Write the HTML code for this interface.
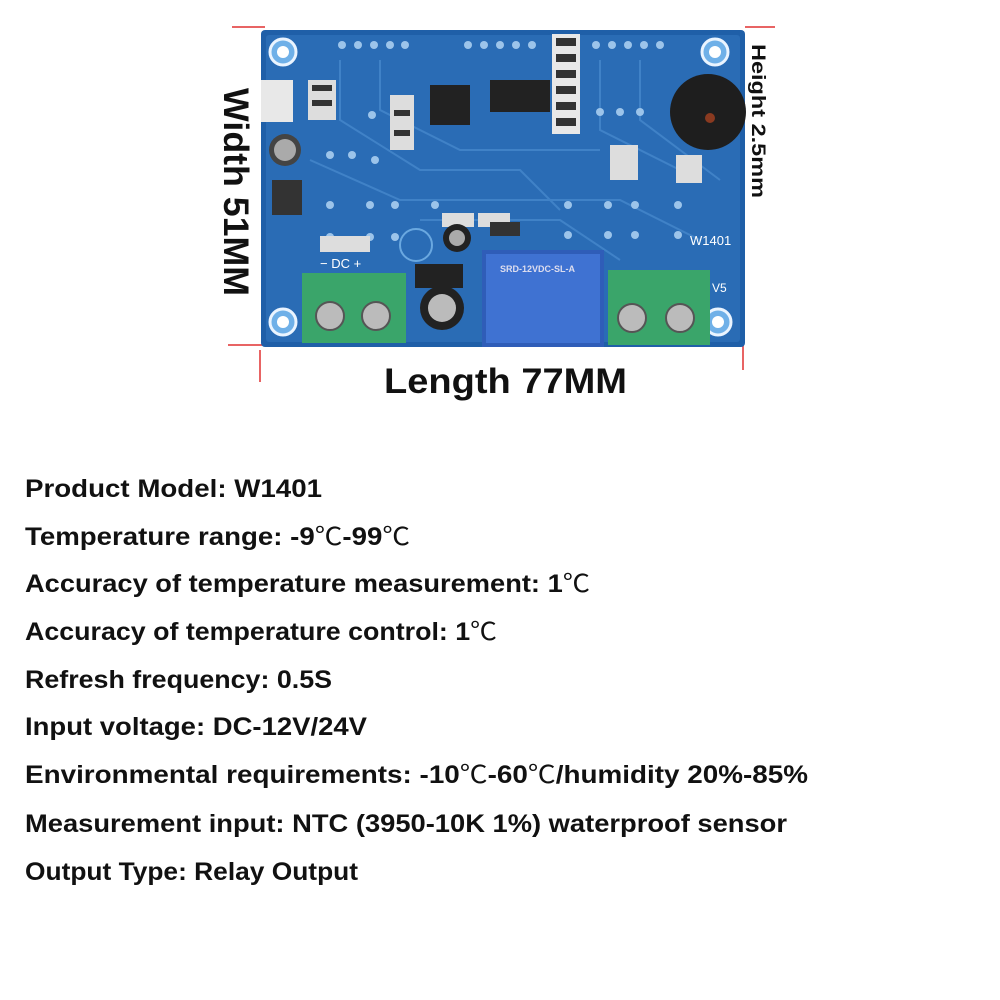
<!DOCTYPE html>
<html><head><meta charset="utf-8"><style>
html,body{margin:0;padding:0;background:#fff;width:1000px;height:1000px;overflow:hidden}
svg text{font-family:"Liberation Sans","Noto Sans CJK SC",sans-serif;font-weight:bold;fill:#111}
.c{font-weight:normal;font-family:"Noto Sans CJK SC",sans-serif}
</style></head><body>
<svg width="1000" height="1000" viewBox="0 0 1000 1000" xmlns="http://www.w3.org/2000/svg">
<g stroke="#e03030" stroke-width="1.5">
<line x1="232" y1="27" x2="265" y2="27"/><line x1="745" y1="27" x2="775" y2="27"/>
<line x1="228" y1="345" x2="262" y2="345"/>
<line x1="260" y1="350" x2="260" y2="382"/><line x1="743" y1="345" x2="743" y2="370"/>
</g>
<rect x="261" y="30" width="484" height="317" rx="4" fill="#1f5fa8"/>
<rect x="266" y="35" width="474" height="307" rx="3" fill="#2a6cb5"/>
<g fill="none" stroke="#4a8cd0" stroke-width="2" opacity="0.7">
<path d="M340 60 L340 120 L420 170 L520 170 L560 210"/><path d="M380 60 L380 110 L460 150 L600 150"/>
<path d="M600 60 L600 130 L700 180"/><path d="M310 160 L400 200 L620 200 L700 240"/>
<path d="M420 220 L560 220 L620 260"/><path d="M640 60 L640 120 L720 180"/>
</g>
<g fill="#9cc4ea">
<circle cx="342" cy="45" r="4"/><circle cx="358" cy="45" r="4"/><circle cx="374" cy="45" r="4"/><circle cx="390" cy="45" r="4"/><circle cx="405" cy="45" r="4"/>
<circle cx="468" cy="45" r="4"/><circle cx="484" cy="45" r="4"/><circle cx="500" cy="45" r="4"/><circle cx="516" cy="45" r="4"/><circle cx="532" cy="45" r="4"/>
<circle cx="596" cy="45" r="4"/><circle cx="612" cy="45" r="4"/><circle cx="628" cy="45" r="4"/><circle cx="644" cy="45" r="4"/><circle cx="660" cy="45" r="4"/>
<circle cx="330" cy="155" r="4"/><circle cx="352" cy="155" r="4"/><circle cx="372" cy="115" r="4"/><circle cx="375" cy="160" r="4"/>
<circle cx="330" cy="205" r="4"/><circle cx="370" cy="205" r="4"/><circle cx="395" cy="205" r="4"/><circle cx="435" cy="205" r="4"/>
<circle cx="330" cy="237" r="4"/><circle cx="370" cy="237" r="4"/><circle cx="395" cy="237" r="4"/>
<circle cx="568" cy="205" r="4"/><circle cx="608" cy="205" r="4"/><circle cx="635" cy="205" r="4"/><circle cx="678" cy="205" r="4"/>
<circle cx="568" cy="235" r="4"/><circle cx="608" cy="235" r="4"/><circle cx="635" cy="235" r="4"/><circle cx="678" cy="235" r="4"/>
<circle cx="600" cy="112" r="4"/><circle cx="620" cy="112" r="4"/><circle cx="640" cy="112" r="4"/>
</g>
<g fill="#6fb0e8" stroke="#eaf4ff" stroke-width="3">
<circle cx="283" cy="52" r="13"/><circle cx="715" cy="52" r="13"/>
<circle cx="283" cy="322" r="13"/><circle cx="718" cy="322" r="13"/>
</g>
<g fill="#fff"><circle cx="283" cy="52" r="6"/><circle cx="715" cy="52" r="6"/><circle cx="283" cy="322" r="6"/><circle cx="718" cy="322" r="6"/></g>
<rect x="261" y="80" width="32" height="42" fill="#e8e8e8"/>
<circle cx="285" cy="150" r="16" fill="#444"/><circle cx="285" cy="150" r="11" fill="#aaa"/>
<rect x="272" y="180" width="30" height="35" fill="#333"/>
<rect x="430" y="85" width="40" height="40" fill="#222"/>
<rect x="490" y="80" width="60" height="32" fill="#222"/>
<rect x="552" y="34" width="28" height="100" fill="#e8e8e8"/>
<g fill="#333"><rect x="556" y="38" width="20" height="8"/><rect x="556" y="54" width="20" height="8"/><rect x="556" y="70" width="20" height="8"/><rect x="556" y="86" width="20" height="8"/><rect x="556" y="102" width="20" height="8"/><rect x="556" y="118" width="20" height="8"/></g>
<circle cx="708" cy="112" r="38" fill="#1e1e1e"/><circle cx="710" cy="118" r="5" fill="#8a3a20"/>
<g fill="#ddd"><rect x="308" y="80" width="28" height="40"/><rect x="390" y="95" width="24" height="55"/><rect x="610" y="145" width="28" height="35"/><rect x="676" y="155" width="26" height="28"/><rect x="442" y="213" width="32" height="14"/><rect x="478" y="213" width="32" height="14"/><rect x="320" y="236" width="50" height="16"/></g>
<g fill="#333"><rect x="312" y="85" width="20" height="6"/><rect x="312" y="100" width="20" height="6"/><rect x="394" y="110" width="16" height="6"/><rect x="394" y="130" width="16" height="6"/><rect x="490" y="222" width="30" height="14"/></g>
<circle cx="457" cy="238" r="14" fill="#222"/><circle cx="457" cy="238" r="8" fill="#aaa"/>
<circle cx="442" cy="308" r="22" fill="#222"/><circle cx="442" cy="308" r="14" fill="#bbb"/>
<circle cx="416" cy="245" r="16" fill="none" stroke="#6aa8e0" stroke-width="2"/>
<rect x="415" y="264" width="48" height="24" fill="#222"/>
<rect x="482" y="250" width="122" height="97" fill="#2f5db8"/>
<rect x="486" y="254" width="114" height="89" fill="#3f72d2"/>
<text x="500" y="272" style="fill:#dde;font-size:9px">SRD-12VDC-SL-A</text>
<rect x="302" y="273" width="104" height="70" fill="#3aa56a"/>
<rect x="608" y="270" width="102" height="75" fill="#3aa56a"/>
<g fill="#bbb" stroke="#555" stroke-width="2">
<circle cx="330" cy="316" r="14"/><circle cx="376" cy="316" r="14"/><circle cx="632" cy="318" r="14"/><circle cx="680" cy="318" r="14"/>
</g>
<text x="320" y="268" style="fill:#fff;font-size:13px;font-weight:normal">−  DC  +</text>
<text x="690" y="245" style="fill:#fff;font-size:13px;font-weight:normal">W1401</text>
<text x="712" y="292" style="fill:#fff;font-size:12px;font-weight:normal">V5</text>
<text x="0" y="0" transform="translate(224,88) rotate(90)" font-size="35" textLength="208" lengthAdjust="spacingAndGlyphs">Width 51MM</text>
<text x="0" y="0" transform="translate(752,44) rotate(90)" font-size="19" textLength="154" lengthAdjust="spacingAndGlyphs">Height 2.5mm</text>
<text x="384" y="393" font-size="35" textLength="243" lengthAdjust="spacingAndGlyphs">Length 77MM</text>
<g font-size="25">
<text x="25" y="497" textLength="297" lengthAdjust="spacingAndGlyphs">Product Model: W1401</text>
<text x="25" y="545" textLength="385" lengthAdjust="spacingAndGlyphs">Temperature range: -9<tspan class="c">℃</tspan>-99<tspan class="c">℃</tspan></text>
<text x="25" y="592" textLength="565" lengthAdjust="spacingAndGlyphs">Accuracy of temperature measurement: 1<tspan class="c">℃</tspan></text>
<text x="25" y="640" textLength="472" lengthAdjust="spacingAndGlyphs">Accuracy of temperature control: 1<tspan class="c">℃</tspan></text>
<text x="25" y="688" textLength="307" lengthAdjust="spacingAndGlyphs">Refresh frequency: 0.5S</text>
<text x="25" y="735" textLength="342" lengthAdjust="spacingAndGlyphs">Input voltage: DC-12V/24V</text>
<text x="25" y="783" textLength="783" lengthAdjust="spacingAndGlyphs">Environmental requirements: -10<tspan class="c">℃</tspan>-60<tspan class="c">℃</tspan>/humidity 20%-85%</text>
<text x="25" y="832" textLength="762" lengthAdjust="spacingAndGlyphs">Measurement input: NTC (3950-10K 1%) waterproof sensor</text>
<text x="25" y="880" textLength="333" lengthAdjust="spacingAndGlyphs">Output Type: Relay Output</text>
</g>
</svg>
</body></html>
